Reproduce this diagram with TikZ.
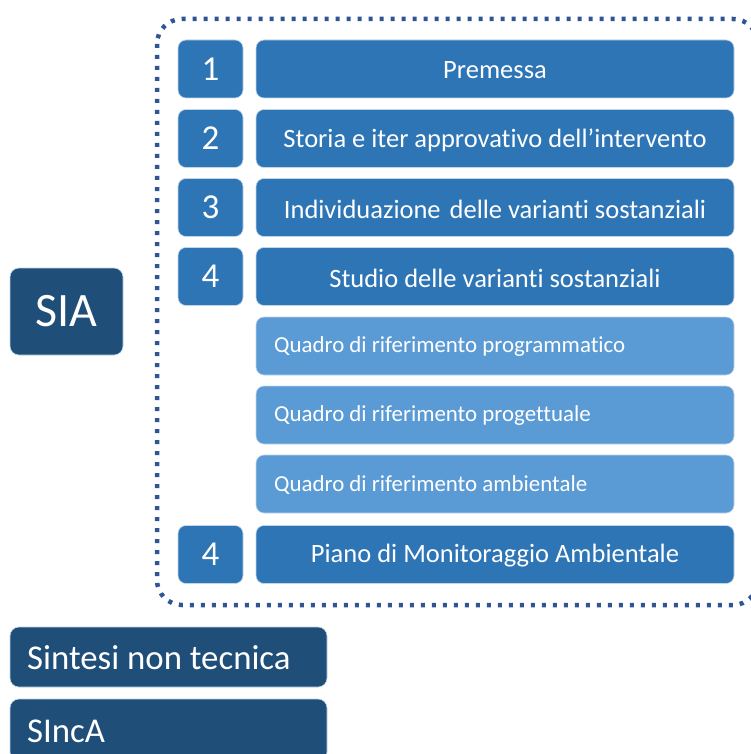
\documentclass[tikz,border=0pt]{standalone}
\usepackage{fontspec}
\setmainfont{Carlito}[Ligatures={NoCommon}]
\definecolor{mid}{HTML}{2E75B6}
\definecolor{light}{HTML}{5B9BD5}
\definecolor{dark}{HTML}{1F4E79}
\definecolor{frame}{HTML}{2F5597}
\begin{document}
\begin{tikzpicture}[x=1pt,y=-1pt,
  box/.style={rounded corners=8pt,inner sep=0pt,text=white,draw=white!70!mid,line width=0.6pt},
  numbox/.style={box,fill=mid,minimum width=65pt,minimum height=58pt,font=\fontsize{35}{38}\selectfont},
  mainbox/.style={box,fill=mid,minimum width=478pt,minimum height=58pt},
  maintext/.style={text=white,inner sep=0pt,font=\fontsize{26.5}{30}\selectfont},
  subbox/.style={box,fill=light,minimum width=478pt,minimum height=58pt},
  subtext/.style={text=white,inner sep=0pt,anchor=west,font=\fontsize{22.9}{26}\selectfont},
  darkbox/.style={box,fill=dark,rounded corners=9pt},
  bigtext/.style={text=white,inner sep=0pt,anchor=west,font=\fontsize{34.8}{38}\selectfont}]
\useasboundingbox (0,0) rectangle (750,754);
\draw[frame,line width=4.5pt,dash pattern=on 4pt off 7pt,rounded corners=25pt] (157,19) rectangle (758,605);
% rows
\node[numbox] (n1) at (210.5,69) {1};
\node[mainbox] (m1) at (495,69) {};
\node[maintext] at (495,70.5) {Premessa};
\node[numbox] (n2) at (210.5,138.5) {2};
\node[mainbox] (m2) at (495,138.5) {};
\node[maintext] at (495,140) {Storia e iter approvativo dell’intervento};
\node[numbox] (n3) at (210.5,207.5) {3};
\node[mainbox] (m3) at (495,207.5) {};
\node[maintext] at (495,209) {Individuazione\hspace{3pt} delle varianti sostanziali};
\node[numbox] (n4) at (210.5,276.5) {4};
\node[mainbox] (m4) at (495,276.5) {};
\node[maintext] at (495,278) {Studio delle varianti sostanziali};
\node[subbox] (s1) at (495,346) {};
\node[subtext] (t1) at (274,347) {Quadro di riferimento programmatico};
\node[subbox] (s2) at (495,415) {};
\node[subtext] (t2) at (274,416) {Quadro di riferimento progettuale};
\node[subbox] (s3) at (495,484) {};
\node[subtext] (t3) at (274,485) {Quadro di riferimento ambientale};
\node[numbox] (n5) at (210.5,554.5) {4};
\node[mainbox] (m5) at (495,554.5) {};
\node[maintext] at (495,556) {Piano di Monitoraggio Ambientale};
% left
\node[darkbox,minimum width=113pt,minimum height=87pt,font=\fontsize{48}{52}\selectfont] (sia) at (66.5,311.5) {SIA};
\node[darkbox,minimum width=317pt,minimum height=60pt] (snt) at (168.5,657) {};
\node[bigtext] (sntt) at (27,658) {Sintesi non tecnica};
\node[darkbox,minimum width=317pt,minimum height=62pt] (sinca) at (168.5,730) {};
\node[bigtext] (sincat) at (27,731) {SIncA};
\end{tikzpicture}
\end{document}
